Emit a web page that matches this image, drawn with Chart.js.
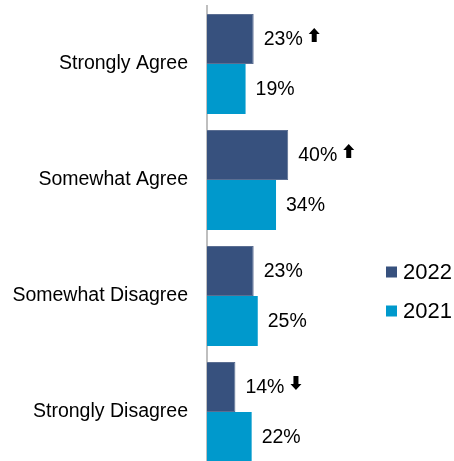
<!DOCTYPE html>
<html lang="en">
<head>
    <meta charset="UTF-8">
    <title>Agree / Disagree 2022 vs 2021</title>
    <script src="https://cdn.jsdelivr.net/npm/chart.js"></script>
    <style>
        body {
            margin: 0px;
            overflow: hidden;
            background: white;
        }
        canvas {
            display: block;
        }
    </style>
</head>
<body>
<canvas id="graph" width="454" height="470"></canvas>

<script>
    // data
    const categories = ['Strongly Agree', 'Somewhat Agree', 'Somewhat Disagree', 'Strongly Disagree'];
    const years = ['2022', '2021'];
    const values2022 = [23, 40, 23, 14];
    const values2021 = [19, 34, 25, 22];
    const trend2022 = ['up', 'up', '', 'down'];

    const FONT = '"Liberation Sans", Arial, Helvetica, sans-serif';

    // draws an arrow, tip up or down, box 11x14
    function drawArrow(ctx, x, y, dir) {
        const w = 11, h = 14, head = 6, shaft = 5;
        ctx.save();
        ctx.fillStyle = '#000';
        ctx.translate(x, y);
        if (dir === 'down') {
            ctx.translate(0, h);
            ctx.scale(1, -1);
        }
        ctx.beginPath();
        ctx.moveTo(w / 2, 0);
        ctx.lineTo(w, head);
        ctx.lineTo(w / 2 + shaft / 2, head);
        ctx.lineTo(w / 2 + shaft / 2, h);
        ctx.lineTo(w / 2 - shaft / 2, h);
        ctx.lineTo(w / 2 - shaft / 2, head);
        ctx.lineTo(0, head);
        ctx.closePath();
        ctx.fill();
        ctx.restore();
    }

    const labelsPlugin = {
        id: 'labelsPlugin',
        afterDatasetsDraw(chart) {
            const ctx = chart.ctx;
            ctx.save();
            ctx.font = '19.5px ' + FONT;
            ctx.fillStyle = '#000';
            ctx.textBaseline = 'middle';
            ctx.textAlign = 'left';
            chart.data.datasets.forEach(function (ds, i) {
                chart.getDatasetMeta(i).data.forEach(function (bar, j) {
                    const txt = ds.data[j] + '%';
                    const tx = bar.x + 10;
                    ctx.fillText(txt, tx, bar.y + 1);
                    if (i === 0 && trend2022[j]) {
                        const tw = ctx.measureText(txt).width;
                        drawArrow(ctx, tx + tw + 6, bar.y - 11, trend2022[j]);
                    }
                });
            });

            // legend
            ctx.font = '22px ' + FONT;
            const lx = 386, ly = [272, 311];
            chart.data.datasets.forEach(function (ds, i) {
                ctx.fillStyle = ds.backgroundColor;
                ctx.fillRect(lx, ly[i] - 5.5, 11, 11);
                ctx.fillStyle = '#000';
                ctx.fillText(ds.label, lx + 17, ly[i] + 1);
            });
            ctx.restore();
        }
    };

    const config = {
        type: 'bar',
        data: {
            labels: categories,
            datasets: [{
                label: years[0],
                backgroundColor: '#37517E',
                borderColor: '#5B6E92',
                borderWidth: 1,
                data: values2022
            }, {
                label: years[1],
                backgroundColor: '#0099CC',
                data: values2021
            }]
        },
        options: {
            indexAxis: 'y',
            responsive: false,
            animation: false,
            layout: {
                padding: {top: 6, right: 44, bottom: 0, left: 0}
            },
            datasets: {
                bar: {
                    barPercentage: 1,
                    categoryPercentage: 100 / 116
                }
            },
            scales: {
                x: {
                    display: false,
                    min: 0,
                    max: 100
                },
                y: {
                    afterFit(scale) {
                        scale.width = 207;
                        scale.paddingTop = 0;
                        scale.paddingBottom = 0;
                    },
                    grid: {display: false, drawTicks: false},
                    border: {display: true, color: '#BFBFBF', width: 2},
                    ticks: {
                        padding: 19,
                        color: '#000',
                        font: {family: FONT, size: 19.5}
                    }
                }
            },
            plugins: {
                legend: {display: false},
                tooltip: {enabled: false}
            }
        },
        plugins: [labelsPlugin]
    };

    new Chart(document.getElementById('graph'), config);
</script>
</body>
</html>
